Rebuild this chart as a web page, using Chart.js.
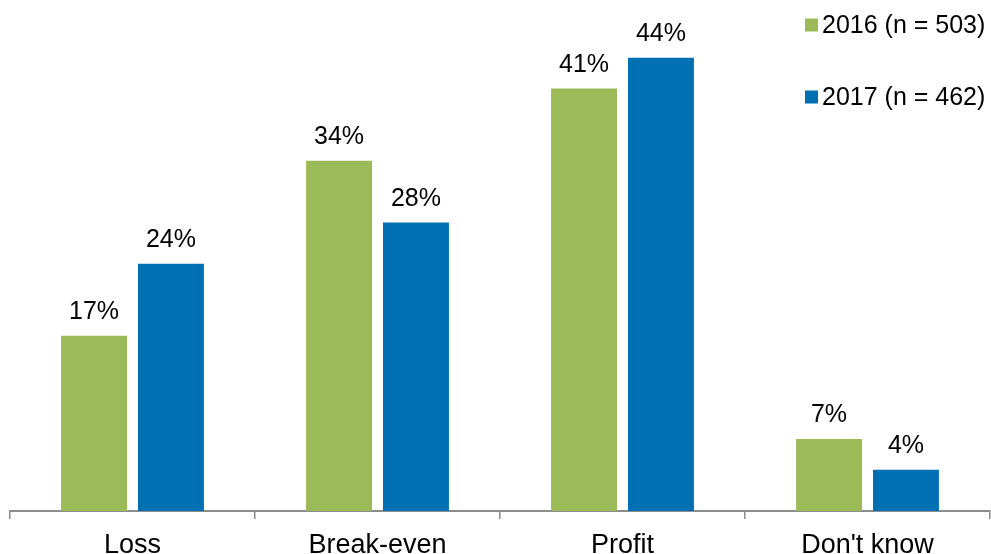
<!DOCTYPE html>
<html>
<head>
<meta charset="utf-8">
<script src="https://cdn.jsdelivr.net/npm/chart.js@4"></script>
<style>
  html, body { margin: 0; padding: 0; background: #fff; }
  #wrap { width: 991px; height: 554px; }
</style>
</head>
<body>
<div id="wrap"><canvas id="myChart"></canvas></div>
<script>
const categories = ['Loss', 'Break-even', 'Profit', "Don't know"]
const values2016 = [17, 34, 41, 7]
const values2017 = [24, 28, 44, 4]
const seriesLabels = ['2016 (n = 503)', '2017 (n = 462)']

const green = '#9BBB59'
const blue = '#0070B3'
const fontFamily = "'Liberation Sans', Arial, sans-serif"

// value labels above each bar
const barLabels = {
  id: 'barLabels',
  afterDatasetsDraw(chart) {
    const ctx = chart.ctx
    ctx.save()
    ctx.font = '25px ' + fontFamily
    ctx.fillStyle = '#000'
    ctx.textAlign = 'center'
    ctx.textBaseline = 'alphabetic'
    chart.data.datasets.forEach((ds, i) => {
      chart.getDatasetMeta(i).data.forEach((bar, j) => {
        ctx.fillText(ds.data[j] + '%', bar.x, bar.y - 17)
      })
    })
    ctx.restore()
  }
}

// legend stacked in the top right corner
const cornerLegend = {
  id: 'cornerLegend',
  afterDraw(chart) {
    const ctx = chart.ctx
    const x = chart.chartArea.right - 185
    ctx.save()
    ctx.font = '25px ' + fontFamily
    ctx.textBaseline = 'middle'
    chart.data.datasets.forEach((ds, i) => {
      const y = 25 + i * 72
      ctx.fillStyle = ds.backgroundColor
      ctx.fillRect(x, y - 6.5, 13, 13)
      ctx.fillStyle = '#000'
      ctx.fillText(ds.label, x + 17, y + 1)
    })
    ctx.restore()
  }
}

const data = {
  labels: categories,
  datasets: [
    { label: seriesLabels[0], data: values2016, backgroundColor: green },
    { label: seriesLabels[1], data: values2017, backgroundColor: blue }
  ]
}

const config = {
  type: 'bar',
  data: data,
  options: {
    responsive: true,
    maintainAspectRatio: false,
    animation: false,
    layout: { padding: { left: 10, right: 1, top: 0, bottom: 0 } },
    datasets: {
      bar: { categoryPercentage: 0.628, barPercentage: 0.857 }
    },
    plugins: {
      legend: { display: false },
      tooltip: { enabled: false }
    },
    scales: {
      x: {
        afterFit(scale) { scale.height = 43 },
        grid: {
          offset: true,
          drawOnChartArea: false,
          drawTicks: true,
          tickLength: 8,
          color: '#8C8C8C',
          lineWidth: 1.5
        },
        border: { display: true, color: '#8C8C8C', width: 2 },
        ticks: {
          color: '#000',
          padding: 10,
          font: { size: 27, family: fontFamily }
        }
      },
      y: {
        display: false,
        min: 0,
        max: 49.6
      }
    }
  },
  plugins: [barLabels, cornerLegend]
}

const myChart = new Chart(document.getElementById('myChart'), config)
</script>
</body>
</html>
